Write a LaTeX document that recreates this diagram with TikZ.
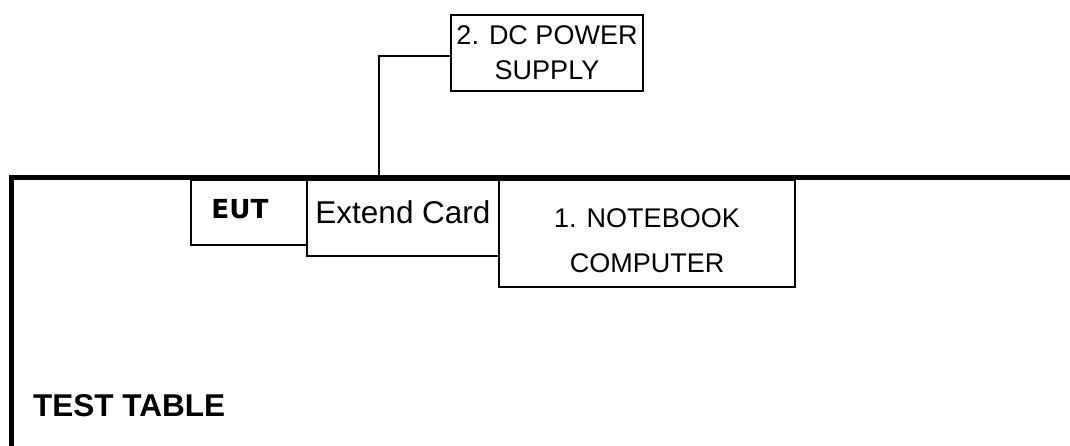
\documentclass[tikz,border=0pt]{standalone}
\usepackage{fontspec}
\setmainfont{Liberation Sans}
\newfontfamily\eutfont{DejaVu Sans}
\usetikzlibrary{positioning}

\begin{document}
\begin{tikzpicture}[x=1pt, y=-1pt,
    box/.style={draw, line width=1.2pt, rectangle, inner sep=0pt, outer sep=0pt, align=center},
    wire/.style={line width=1.2pt},
    tableline/.style={line width=4.5pt},
    every node/.style={font=\fontsize{27}{35}\selectfont}]

    % --- 1. 描画範囲 ---
    \useasboundingbox (0,0) rectangle (1070,446);

    % --- 2. テストテーブル ---
    \coordinate (TblCorner) at (11.3,177.5);
    \draw[tableline] (11.3,446) -- (TblCorner) -- (1070,177.5);
    \node[anchor=base west, inner sep=0pt, font=\bfseries\fontsize{31.5}{36}\selectfont]
    (TblLabel) at (33,416) {TEST TABLE};

    % --- 3. 机上の機器 ---
    % EUT
    \node[box, minimum width=116pt, minimum height=65pt, anchor=north west,
    text height=19pt, text depth=6.5pt, font=\eutfont\bfseries\fontsize{26.2}{30}\selectfont]
    (EUT) at (191,180) {EUT\hspace*{18pt}};

    % Extend Card
    \node[box, minimum width=192pt, minimum height=76pt, anchor=north west,
    text height=22.5pt, text depth=11pt, font=\fontsize{31.5}{36}\selectfont]
    (Card) at (EUT.north east) {Extend Card};

    % 1. ノートパソコン
    \node[box, minimum width=296pt, minimum height=107pt, anchor=north west,
    text height=77.5pt, text depth=0pt, font=\fontsize{27}{45}\selectfont]
    (NB) at (Card.north east) {1. NOTEBOOK\\COMPUTER};

    % --- 4. 直流電源と配線 ---
    \node[box, minimum width=192pt, minimum height=76pt] (PSU) at (547,53) {2. DC POWER\\SUPPLY};
    \coordinate (Tap) at (379,177.5);
    \draw[wire] ([yshift=-3pt]PSU.west) -| (Tap);

\end{tikzpicture}
\end{document}
